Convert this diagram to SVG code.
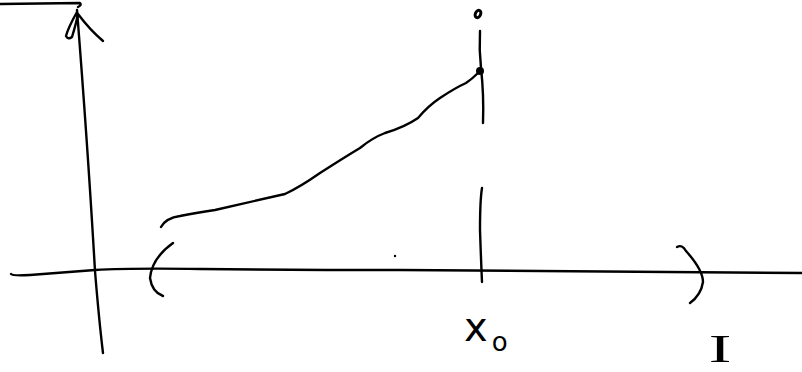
<svg xmlns="http://www.w3.org/2000/svg" width="802" height="372" viewBox="0 0 802 372">
<style>
.s{fill:none;stroke:#000;stroke-width:2.4;stroke-linecap:round;stroke-linejoin:round}
.t{font-family:"DejaVu Sans",sans-serif;fill:#000}
</style>
<rect width="802" height="372" fill="#fff"/>
<g id="axes">
<path class="s" d="M0 4 L80 3 Q82 5 78 7"/>
<path class="s" d="M77 10 Q88 150 95 271 Q99 320 103 353"/>
<path class="s" d="M77 12 Q68 28 66 36 Q68 40 72 37 Q76 24 78 14 Q90 30 103 41"/>
<path class="s" d="M11 274 Q12 276 30 275 Q70 272 95 270 Q130 268 200 269 Q300 270 400 270 Q600 271 802 273"/>
</g>
<g id="interval">
<path class="s" d="M173 243 Q152 258 150 278 Q152 292 163 296"/>
<path class="s" d="M677 247 Q682 244 686 251 Q703 270 703 282 Q701 295 690 303"/>
</g>
<g id="curve">
<path class="s" d="M161 227 Q166 218 180 216 Q195 213 215 210 Q250 202 285 194 Q300 187 320 173 Q345 157 360 148 Q372 138 385 133 Q405 127 418 118 Q428 106 440 98 Q455 88 466 83 Q472 79 478 73"/>
</g>
<g id="x0-line">
<path class="s" d="M480 31 Q479 50 481 68 Q484 95 483 123"/>
<path class="s" d="M482 188 Q480 200 480 230 Q481 260 482 282"/>
<circle cx="480" cy="71" r="4" fill="#000"/>
<ellipse cx="478" cy="14" rx="2.6" ry="3.8" transform="rotate(25 478 14)" fill="none" stroke="#000" stroke-width="3"/>
<circle cx="395" cy="256" r="1.2" fill="#000"/>
</g>
<g id="labels">
<text class="t" x="464" y="341" font-size="40">x<tspan dx="4" dy="10" font-size="26">o</tspan></text>
<text x="720" y="362" font-family="Liberation Serif, serif" font-size="40" text-anchor="middle" transform="translate(720 0) scale(1.7 1) translate(-720 0)">I</text>
</g>
</svg>
